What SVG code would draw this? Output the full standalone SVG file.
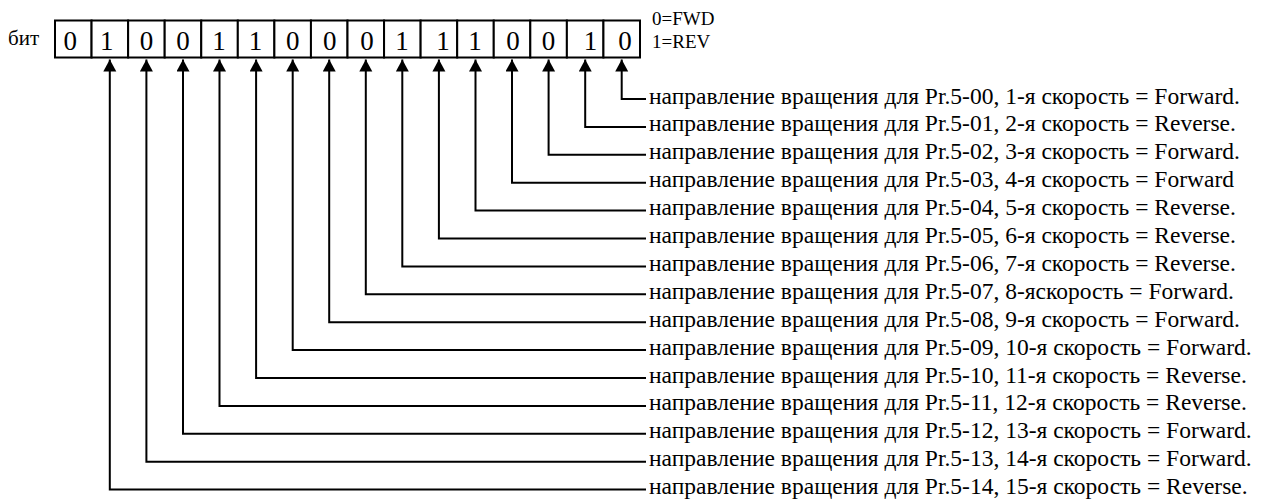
<svg xmlns="http://www.w3.org/2000/svg" width="1278" height="499" viewBox="0 0 1278 499">
<style>
  .bg { fill: #ffffff; }
  .cell { fill: #ffffff; stroke: #000000; stroke-width: 2; }
  .digit { font-family: "Liberation Serif", "Times New Roman", serif; font-size: 27px; fill: #000000; text-anchor: middle; }
  .lbl { font-family: "Liberation Serif", "Times New Roman", serif; font-size: 23.5px; fill: #000000; }
  .small { font-family: "Liberation Serif", "Times New Roman", serif; font-size: 19px; fill: #000000; }
  .conn { fill: none; stroke: #000000; stroke-width: 2; marker-end: url(#arr); }
</style>
<defs>
  <marker id="arr" markerUnits="userSpaceOnUse" markerWidth="14" markerHeight="14" viewBox="0 0 14 14" refX="12" refY="6.5" orient="auto">
    <path d="M0,0 L12,6.5 L0,13 Z" fill="#000000"/>
  </marker>
</defs>
<rect class="bg" x="0" y="0" width="1278" height="499"/>

<g id="title"><text class="lbl" x="8" y="45" style="font-size:21px">бит</text></g>

<g id="bits">
  <g id="bit15"><rect class="cell" x="55" y="20.5" width="36.56" height="37"/><text class="digit" x="70.3" y="50">0</text></g>
  <g id="bit14"><rect class="cell" x="91.56" y="20.5" width="36.56" height="37"/><text class="digit" x="106.8" y="50">1</text></g>
  <g id="bit13"><rect class="cell" x="128.13" y="20.5" width="36.56" height="37"/><text class="digit" x="146.4" y="50">0</text></g>
  <g id="bit12"><rect class="cell" x="164.69" y="20.5" width="36.56" height="37"/><text class="digit" x="183.0" y="50">0</text></g>
  <g id="bit11"><rect class="cell" x="201.25" y="20.5" width="36.56" height="37"/><text class="digit" x="219" y="50">1</text></g>
  <g id="bit10"><rect class="cell" x="237.81" y="20.5" width="36.56" height="37"/><text class="digit" x="255.6" y="50">1</text></g>
  <g id="bit9"><rect class="cell" x="274.38" y="20.5" width="36.56" height="37"/><text class="digit" x="292.7" y="50">0</text></g>
  <g id="bit8"><rect class="cell" x="310.94" y="20.5" width="36.56" height="37"/><text class="digit" x="329.7" y="50">0</text></g>
  <g id="bit7"><rect class="cell" x="347.5" y="20.5" width="36.56" height="37"/><text class="digit" x="367" y="50">0</text></g>
  <g id="bit6"><rect class="cell" x="384.06" y="20.5" width="36.56" height="37"/><text class="digit" x="402" y="50">1</text></g>
  <g id="bit5"><rect class="cell" x="420.63" y="20.5" width="36.56" height="37"/><text class="digit" x="443" y="50">1</text></g>
  <g id="bit4"><rect class="cell" x="457.19" y="20.5" width="36.56" height="37"/><text class="digit" x="475" y="50">1</text></g>
  <g id="bit3"><rect class="cell" x="493.75" y="20.5" width="36.56" height="37"/><text class="digit" x="513" y="50">0</text></g>
  <g id="bit2"><rect class="cell" x="530.31" y="20.5" width="36.56" height="37"/><text class="digit" x="548.6" y="50">0</text></g>
  <g id="bit1"><rect class="cell" x="566.88" y="20.5" width="36.56" height="37"/><text class="digit" x="590.5" y="50">1</text></g>
  <g id="bit0"><rect class="cell" x="603.44" y="20.5" width="36.56" height="37"/><text class="digit" x="625" y="50">0</text></g>
</g>

<g id="legend">
  <text class="small" x="652" y="25">0=FWD</text>
  <text class="small" x="652" y="48">1=REV</text>
</g>

<g id="connectors">
  <path class="conn" d="M646,99 H621.7 V59.5"/>
  <path class="conn" d="M646,126.9 H585.2 V59.5"/>
  <path class="conn" d="M646,154.8 H548.6 V59.5"/>
  <path class="conn" d="M646,182.7 H512.0 V59.5"/>
  <path class="conn" d="M646,210.6 H475.5 V59.5"/>
  <path class="conn" d="M646,238.5 H438.9 V59.5"/>
  <path class="conn" d="M646,266.4 H402.3 V59.5"/>
  <path class="conn" d="M646,294.3 H365.8 V59.5"/>
  <path class="conn" d="M646,322.2 H329.2 V59.5"/>
  <path class="conn" d="M646,350.1 H292.7 V59.5"/>
  <path class="conn" d="M646,378 H256.1 V59.5"/>
  <path class="conn" d="M646,405.9 H219.5 V59.5"/>
  <path class="conn" d="M646,433.8 H183.0 V59.5"/>
  <path class="conn" d="M646,461.7 H146.4 V59.5"/>
  <path class="conn" d="M646,489.6 H109.8 V59.5"/>
</g>

<g id="labels">
  <g id="label0"><text class="lbl" x="649" y="103.5">направление вращения для Pr.5-00, 1-я скорость = Forward.</text></g>
  <g id="label1"><text class="lbl" x="649" y="131.4">направление вращения для Pr.5-01, 2-я скорость = Reverse.</text></g>
  <g id="label2"><text class="lbl" x="649" y="159.3">направление вращения для Pr.5-02, 3-я скорость = Forward.</text></g>
  <g id="label3"><text class="lbl" x="649" y="187.2">направление вращения для Pr.5-03, 4-я скорость = Forward</text></g>
  <g id="label4"><text class="lbl" x="649" y="215.1">направление вращения для Pr.5-04, 5-я скорость = Reverse.</text></g>
  <g id="label5"><text class="lbl" x="649" y="243">направление вращения для Pr.5-05, 6-я скорость = Reverse.</text></g>
  <g id="label6"><text class="lbl" x="649" y="270.9">направление вращения для Pr.5-06, 7-я скорость = Reverse.</text></g>
  <g id="label7"><text class="lbl" x="649" y="298.8">направление вращения для Pr.5-07, 8-яскорость = Forward.</text></g>
  <g id="label8"><text class="lbl" x="649" y="326.7">направление вращения для Pr.5-08, 9-я скорость = Forward.</text></g>
  <g id="label9"><text class="lbl" x="649" y="354.6">направление вращения для Pr.5-09, 10-я скорость = Forward.</text></g>
  <g id="label10"><text class="lbl" x="649" y="382.5">направление вращения для Pr.5-10, 11-я скорость = Reverse.</text></g>
  <g id="label11"><text class="lbl" x="649" y="410.4">направление вращения для Pr.5-11, 12-я скорость = Reverse.</text></g>
  <g id="label12"><text class="lbl" x="649" y="438.3">направление вращения для Pr.5-12, 13-я скорость = Forward.</text></g>
  <g id="label13"><text class="lbl" x="649" y="466.2">направление вращения для Pr.5-13, 14-я скорость = Forward.</text></g>
  <g id="label14"><text class="lbl" x="649" y="494.1">направление вращения для Pr.5-14, 15-я скорость = Reverse.</text></g>
</g>
</svg>
